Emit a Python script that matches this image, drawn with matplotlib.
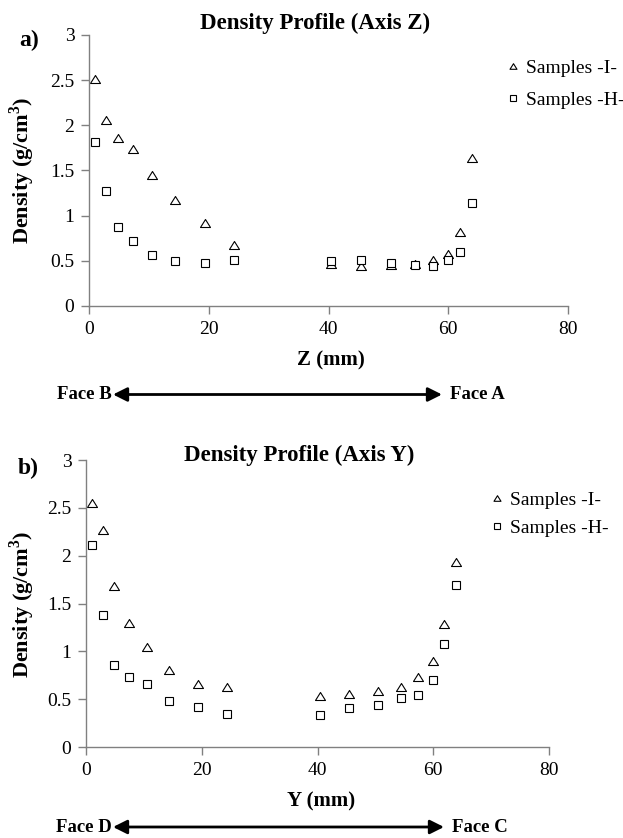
import matplotlib
matplotlib.use("Agg")
import matplotlib.pyplot as plt
from matplotlib.lines import Line2D
from matplotlib.path import Path
from matplotlib.patches import FancyArrowPatch

plt.rcParams['font.family'] = ['Liberation Serif', 'DejaVu Serif']
plt.rcParams['mathtext.fontset'] = 'custom'
plt.rcParams['mathtext.rm'] = 'Liberation Serif'
plt.rcParams['mathtext.bf'] = 'Liberation Serif:bold'

# ---------------- data ----------------
positions = [1.0, 2.9, 4.9, 7.4, 10.5, 14.4, 19.4, 24.3, 40.5, 45.5, 50.5, 54.4, 57.4, 60.0, 61.9, 64.0]

z_samples_I = [2.51, 2.06, 1.86, 1.74, 1.45, 1.17, 0.92, 0.68, 0.46, 0.44, 0.45, 0.47, 0.51, 0.58, 0.82, 1.64]
z_samples_H = [1.81, 1.27, 0.88, 0.72, 0.57, 0.50, 0.48, 0.51, 0.50, 0.51, 0.48, 0.45, 0.44, 0.51, 0.60, 1.14]

y_samples_I = [2.55, 2.27, 1.68, 1.30, 1.05, 0.80, 0.66, 0.63, 0.53, 0.55, 0.59, 0.63, 0.73, 0.90, 1.29, 1.93]
y_samples_H = [2.11, 1.38, 0.86, 0.73, 0.66, 0.48, 0.42, 0.34, 0.33, 0.41, 0.44, 0.51, 0.54, 0.70, 1.08, 1.69]

series_labels = ['Samples -I-', 'Samples -H-']
x_ticks = [0, 20, 40, 60, 80]
x_tick_labels = ['0', '20', '40', '60', '80']
y_ticks = [0, 0.5, 1, 1.5, 2, 2.5, 3]
y_tick_labels = ['0', '0.5', '1', '1.5', '2', '2.5', '3']

W, H = 623, 838
fig = plt.figure(figsize=(W / 100, H / 100), dpi=100)


def fx(px):
    return px / W


def fy(py):
    return 1 - py / H


def axes_rect(left, right, top, bottom):
    return [fx(left), fy(bottom), (right - left) / W, (bottom - top) / H]


tri = Path([(0, 0.8), (-1, -0.8), (1, -0.8), (0, 0.8)],
           [Path.MOVETO, Path.LINETO, Path.LINETO, Path.CLOSEPOLY])
GRAY = '#808080'


def make_panel(rect, yI, yH, title, title_xy, letter, letter_xy, xlabel, xlabel_xy,
               ylabel_xy, leg_xy, leg_spacing, faces, face_y, arrow_x):
    ax = fig.add_axes(rect)
    ax.plot(positions, yI, linestyle='none', marker=tri, markersize=10 / 1.389,
            markerfacecolor='white', markeredgecolor='black', markeredgewidth=0.8)
    ax.plot(positions, yH, linestyle='none', marker='s', markersize=8 / 1.389,
            markerfacecolor='white', markeredgecolor='black', markeredgewidth=0.8)
    ax.set_xlim(0, 80)
    ax.set_ylim(0, 3)
    ax.set_xticks(x_ticks)
    ax.set_xticklabels(x_tick_labels)
    ax.set_yticks(y_ticks)
    ax.set_yticklabels(y_tick_labels)
    for s in ['top', 'right']:
        ax.spines[s].set_visible(False)
    for s in ['left', 'bottom']:
        ax.spines[s].set_color(GRAY)
        ax.spines[s].set_linewidth(1.0)
    ax.tick_params(axis='both', direction='out', length=5.5, width=1.0,
                   color=GRAY, labelsize=14, labelcolor='black')
    ax.tick_params(axis='x', pad=5.5)
    ax.tick_params(axis='y', pad=5)

    fig.text(fx(title_xy[0]), fy(title_xy[1]), title, fontsize=16.5, fontweight='bold',
             ha='center', va='center')
    fig.text(fx(letter_xy[0]), fy(letter_xy[1]), letter, fontsize=17, fontweight='bold',
             ha='center', va='center')
    fig.text(fx(xlabel_xy[0]), fy(xlabel_xy[1]), xlabel, fontsize=15, fontweight='bold',
             ha='center', va='center')
    fig.text(fx(ylabel_xy[0]), fy(ylabel_xy[1]), r'Density (g/cm$^{\mathbf{3}}$)',
             fontsize=16, fontweight='bold', rotation=90, ha='center', va='center')

    handles = [
        Line2D([], [], linestyle='none', marker=tri, markersize=7 / 1.389,
               markerfacecolor='white', markeredgecolor='black', markeredgewidth=0.8),
        Line2D([], [], linestyle='none', marker='s', markersize=5.5 / 1.389,
               markerfacecolor='white', markeredgecolor='black', markeredgewidth=0.8),
    ]
    fig.legend(handles, series_labels, loc='center left',
               bbox_to_anchor=(fx(leg_xy[0]), fy(leg_xy[1])),
               frameon=False, fontsize=14, handlelength=0.8, handletextpad=0.27,
               borderpad=0, borderaxespad=0, labelspacing=leg_spacing)

    fig.text(fx(arrow_x[0] - 1), fy(face_y), faces[0], fontsize=13.5, fontweight='bold',
             ha='right', va='center')
    fig.text(fx(arrow_x[1] + 8), fy(face_y), faces[1], fontsize=13.5, fontweight='bold',
             ha='left', va='center')
    fig.add_artist(FancyArrowPatch(
        (fx(arrow_x[0]), fy(face_y)), (fx(arrow_x[1]), fy(face_y)),
        transform=fig.transFigure, arrowstyle='<|-|>,head_length=0.6,head_width=0.3',
        mutation_scale=14, color='black', lw=2, shrinkA=0, shrinkB=0))
    return ax


make_panel(axes_rect(89, 568, 35, 306), z_samples_I, z_samples_H,
           'Density Profile (Axis Z)', (315, 23), 'a)', (29, 40),
           'Z (mm)', (331, 360), (22, 170), (505, 84), 0.75,
           ('Face B', 'Face A'), 394.5, (113, 442))

make_panel(axes_rect(86, 549, 460, 747), y_samples_I, y_samples_H,
           'Density Profile (Axis Y)', (299, 455), 'b)', (28, 468),
           'Y (mm)', (321, 801), (22, 604), (489, 514), 0.55,
           ('Face D', 'Face C'), 827, (113, 444))

fig.savefig('out.png', dpi=100)
